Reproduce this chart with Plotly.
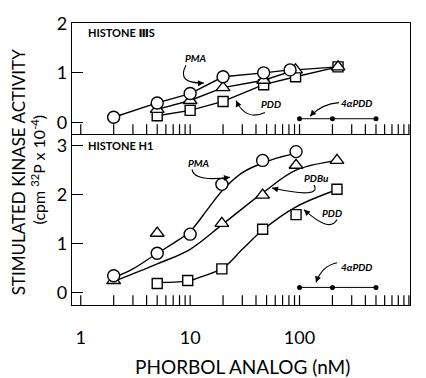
import plotly.graph_objects as go

# ---------------- data ----------------
# Top panel: HISTONE IIIS (straight segments between points)
top_pma_x = [2, 5, 10, 20, 47, 82]
top_pma_y = [0.10, 0.39, 0.58, 0.92, 1.00, 1.06]
top_pdbu_x = [5, 10, 20, 47, 92, 225]
top_pdbu_y = [0.26, 0.44, 0.70, 0.85, 1.06, 1.12]
top_pdd_x = [5, 10, 20, 47, 92, 225]
top_pdd_y = [0.13, 0.24, 0.42, 0.76, 0.92, 1.12]
top_4a_x = [100, 200, 500]
top_4a_y = [0.07, 0.07, 0.07]

# Bottom panel: HISTONE H1 (measured points)
bot_pma_x = [2, 5, 10, 19.5, 46, 93]
bot_pma_y = [0.34, 0.80, 1.19, 2.21, 2.70, 2.88]
bot_pdbu_x = [2, 5, 19.5, 46, 93, 220]
bot_pdbu_y = [0.24, 1.21, 1.41, 1.99, 2.60, 2.70]
bot_pdd_x = [5, 9.5, 19.5, 46, 93, 220]
bot_pdd_y = [0.18, 0.24, 0.48, 1.29, 1.59, 2.11]
bot_4a_x = [100, 200, 500]
bot_4a_y = [0.10, 0.10, 0.10]

# Bottom panel: hand-drawn fitted curves
crv_pma_x = [2, 3, 5, 7, 10, 15, 20, 30, 50, 70, 93]
crv_pma_y = [0.30, 0.48, 0.80, 1.00, 1.25, 1.75, 2.10, 2.45, 2.68, 2.78, 2.85]
crv_pdbu_x = [2, 5, 10, 20, 47, 93, 225]
crv_pdbu_y = [0.22, 0.58, 0.88, 1.40, 2.05, 2.50, 2.70]
crv_pdd_x = [5, 10, 12, 20, 30, 47, 93, 225]
crv_pdd_y = [0.20, 0.24, 0.30, 0.50, 0.88, 1.29, 1.75, 2.11]

x_tick_major = [1, 10, 100, 1000]
x_tick_labels = ["1", "10", "100", "1000"]
x_tick_minor = [2, 3, 4, 5, 6, 7, 8, 9, 20, 30, 40, 50, 60, 70, 80, 90,
                200, 300, 400, 500, 600, 700, 800, 900]
top_y_ticks = [0, 1, 2]
bot_y_ticks = [0, 1, 2, 3]

# ---------------- figure ----------------
W, H = 426, 378
L, R, T, B = 72, 16, 18, 73
pw, ph = W - L - R, H - T - B
bot_px = 174
top_px = ph - bot_px
split = bot_px / ph
XR = [-0.08, 3.01]
YR_TOP = [-0.24, 2.01]
YR_BOT = [-0.26, 3.24]
TICKLEN = 10

FONT = "Lato, Open Sans, DejaVu Sans, sans-serif"
LW = 1.4

fig = go.Figure()

def markers(x, y, sym, size, axes):
    xa, ya = axes
    fig.add_trace(go.Scatter(
        x=x, y=y, mode="markers", xaxis=xa, yaxis=ya, showlegend=False,
        marker=dict(symbol=sym, size=size, color="white",
                    line=dict(color="black", width=LW))))

def line(x, y, axes, shape="linear"):
    xa, ya = axes
    fig.add_trace(go.Scatter(
        x=x, y=y, mode="lines", xaxis=xa, yaxis=ya, showlegend=False,
        line=dict(color="black", width=LW, shape=shape, smoothing=1.0)))

def xticks(axes, yr, panel_px):
    # inward tick marks on the log x axis, at every tick value
    xa, ya = axes
    h = TICKLEN * (yr[1] - yr[0]) / panel_px
    xs, ys = [], []
    for v in x_tick_major + x_tick_minor:
        xs += [v, v, None]
        ys += [yr[0], yr[0] + h, None]
    fig.add_trace(go.Scatter(x=xs, y=ys, mode="lines", xaxis=xa, yaxis=ya,
                             showlegend=False, hoverinfo="skip",
                             line=dict(color="black", width=1.2)))

TOP = ("x2", "y2")
BOT = ("x", "y")

xticks(TOP, YR_TOP, top_px)
xticks(BOT, YR_BOT, bot_px)

# top panel
line(top_pdd_x, top_pdd_y, TOP)
line(top_pdbu_x, top_pdbu_y, TOP)
line(top_pma_x, top_pma_y, TOP)
markers(top_pdd_x, top_pdd_y, "square", 10, TOP)
markers(top_pdbu_x, top_pdbu_y, "triangle-up", 12, TOP)
markers(top_pma_x, top_pma_y, "circle", 12, TOP)
fig.add_trace(go.Scatter(x=top_4a_x, y=top_4a_y, mode="lines+markers",
                         xaxis="x2", yaxis="y2", showlegend=False,
                         line=dict(color="black", width=1),
                         marker=dict(symbol="circle", size=5, color="black")))

# bottom panel
line(crv_pdd_x, crv_pdd_y, BOT, "spline")
line(crv_pdbu_x, crv_pdbu_y, BOT, "spline")
line(crv_pma_x, crv_pma_y, BOT, "spline")
markers(bot_pdd_x, bot_pdd_y, "square", 10, BOT)
markers(bot_pdbu_x, bot_pdbu_y, "triangle-up", 12, BOT)
markers(bot_pma_x, bot_pma_y, "circle", 12, BOT)
fig.add_trace(go.Scatter(x=bot_4a_x, y=bot_4a_y, mode="lines+markers",
                         xaxis="x", yaxis="y", showlegend=False,
                         line=dict(color="black", width=1),
                         marker=dict(symbol="circle", size=5, color="black")))

xcommon = dict(type="log", range=XR, showgrid=False, zeroline=False,
               showline=True, linecolor="black", linewidth=1.4,
               tickmode="array", tickvals=x_tick_major, ticktext=x_tick_labels,
               ticks="")
ycommon = dict(showgrid=False, zeroline=False, showline=True, linecolor="black",
               linewidth=1.4, mirror=True, ticks="inside", ticklen=11,
               tickwidth=1.2, tickcolor="black",
               tickfont=dict(family=FONT, size=18, color="black"))

fig.update_layout(
    width=W, height=H, autosize=False,
    margin=dict(l=L, r=R, t=T, b=B, pad=0),
    paper_bgcolor="white", plot_bgcolor="white",
    font=dict(family=FONT, color="black"),
    xaxis=dict(**xcommon, anchor="y", domain=[0, 1], mirror=False,
               tickfont=dict(family=FONT, size=18, color="black"),
               ticklabelstandoff=16),
    xaxis2=dict(**xcommon, anchor="y2", domain=[0, 1], mirror=True,
                showticklabels=False),
    yaxis=dict(**ycommon, anchor="x", domain=[0, split], range=YR_BOT,
               tickvals=bot_y_ticks),
    yaxis2=dict(**ycommon, anchor="x2", domain=[split, 1], range=YR_TOP,
                tickvals=top_y_ticks),
)

def P(xp, yp):
    return (xp - L) / pw, (H - B - yp) / ph

def text(xp, yp, s, size, italic=False, bold=True, anchor="center", angle=0):
    x, y = P(xp, yp)
    fig.add_annotation(x=x, y=y, xref="paper", yref="paper", text=s,
                       showarrow=False, xanchor=anchor, yanchor="middle",
                       textangle=angle,
                       font=dict(family=FONT, size=size, color="black",
                                 style="italic" if italic else "normal",
                                 weight="bold" if bold else "normal"))

def curved_arrow(p0, c, p1):
    x0, y0 = P(*p0)
    cx, cy = P(*c)
    x1, y1 = P(*p1)
    fig.add_shape(type="path", xref="paper", yref="paper",
                  path=f"M {x0} {y0} Q {cx} {cy} {x1} {y1}",
                  line=dict(color="black", width=1.1))
    dx, dy = p1[0] - c[0], p1[1] - c[1]
    n = (dx * dx + dy * dy) ** 0.5 or 1
    fig.add_annotation(x=x1, y=y1, xref="paper", yref="paper", text="",
                       showarrow=True, arrowhead=2, arrowsize=1.1, arrowwidth=1.1,
                       arrowcolor="black", ax=-dx / n * 6, ay=-dy / n * 6)

# panel labels
text(86, 28, "HISTONE ⅢS", 11, anchor="left")
text(86, 143, "HISTONE H1", 11, anchor="left")

# series labels + arrows (top)
text(196, 54, "PMA", 10, italic=True)
curved_arrow((186, 61), (176, 80), (204, 79))
text(271, 100, "PDD", 10, italic=True)
curved_arrow((265, 109), (246, 118), (236, 97))
text(356, 99, "4αPDD", 10, italic=True)
curved_arrow((339, 99), (322, 100), (310, 113))

# series labels + arrows (bottom)
text(199, 160, "PMA", 10, italic=True)
curved_arrow((192, 167), (194, 180), (230, 175))
text(316, 176, "PDBu", 10, italic=True)
curved_arrow((314, 183), (322, 197), (272, 186))
text(332, 211, "PDD", 10, italic=True)
curved_arrow((337, 218), (330, 232), (304, 208))
text(356, 266, "4αPDD", 10, italic=True)
curved_arrow((337, 262), (322, 265), (316, 282))

# axis titles
text(242, 368, "PHORBOL ANALOG (nM)", 19, bold=False)
text(18, 170, "STIMULATED KINASE ACTIVITY", 17, bold=False, angle=-90)
text(38, 168, "(cpm <sup>32</sup>P x 10<sup>-4</sup>)", 16, bold=False, angle=-90)

fig.write_html("out.html")
